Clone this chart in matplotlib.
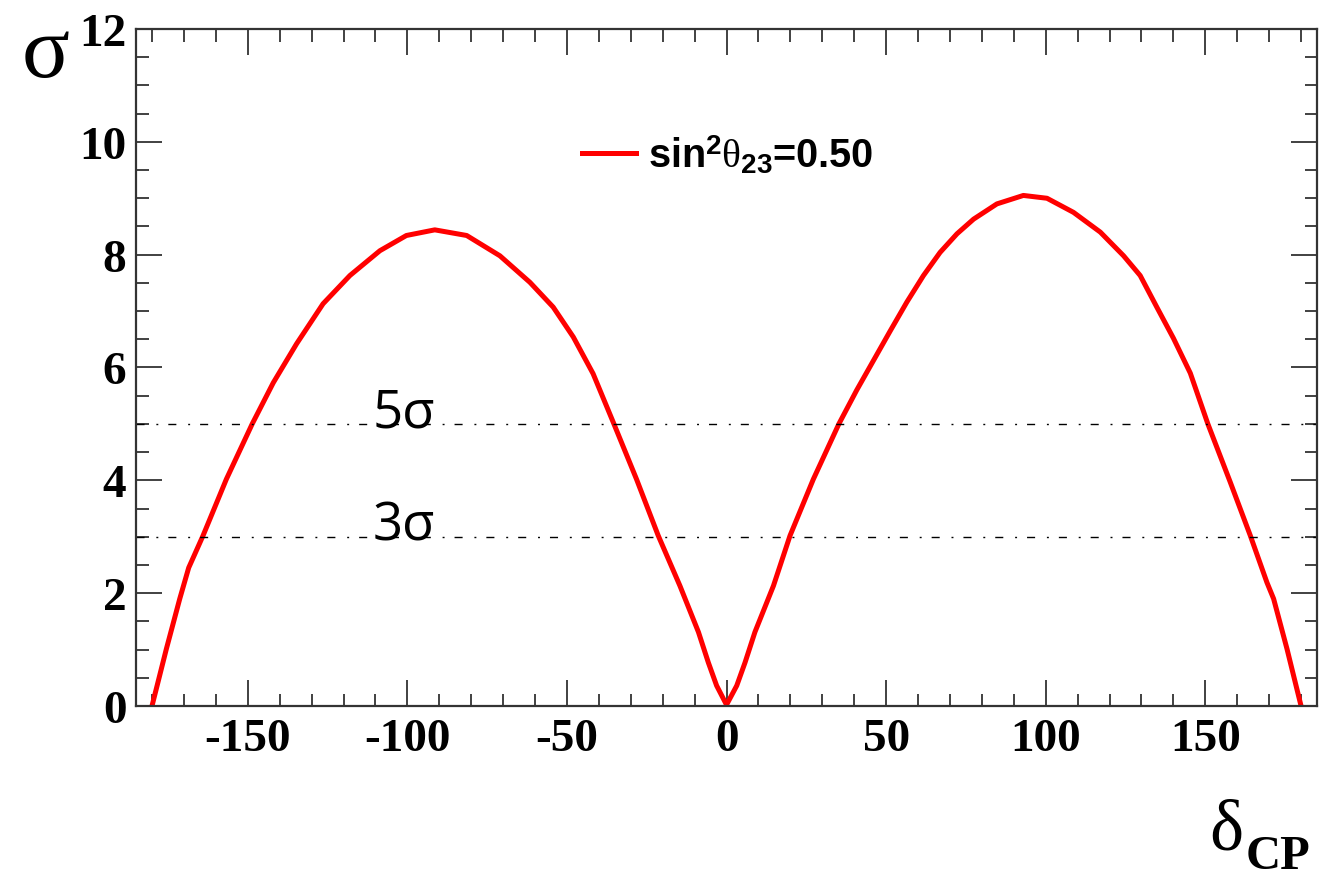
import numpy as np
import matplotlib
matplotlib.use("Agg")
import matplotlib.pyplot as plt
from matplotlib.ticker import MultipleLocator

plt.rcParams['axes.unicode_minus'] = False
plt.rcParams['mathtext.fontset'] = 'custom'
plt.rcParams['mathtext.rm'] = 'Liberation Sans:bold'
plt.rcParams['mathtext.bf'] = 'Liberation Sans:bold'
plt.rcParams['mathtext.it'] = 'Liberation Serif'

##significance vs delta_CP
delta_cp = [-180, -175.5, -171.3, -168.5, -164, -156.7, -148.6, -142, -134.7,
            -126.4, -118, -108.6, -100.3, -91.4, -81.4, -71, -61.6, -54.3,
            -48, -41.8, -35.5, -28.2, -21.4, -14.6, -8.8, -5.7, -3.1, 0,
            3.2, 5.8, 8.9, 14.7, 19.9, 27.2, 35.2, 40.8, 46, 51.3, 56.5, 61.7,
            66.9, 72.2, 77.4, 84.7, 93, 100.4, 108.7, 117.1, 124.4, 129.6,
            134.9, 140, 145.3, 150.8, 157.8, 164.1, 169.3, 171.4, 175.6, 180]
sigma = [0.0, 1.01, 1.9, 2.45, 3.02, 4.02, 5.0, 5.73, 6.42,
         7.13, 7.63, 8.07, 8.34, 8.44, 8.34, 7.98, 7.51, 7.07,
         6.54, 5.89, 5.03, 4.02, 3.02, 2.13, 1.31, 0.77, 0.36, 0.02,
         0.36, 0.77, 1.31, 2.13, 3.02, 4.02, 5.0, 5.6, 6.12, 6.65, 7.16, 7.63,
         8.04, 8.37, 8.63, 8.9, 9.05, 9.0, 8.75, 8.4, 7.98, 7.63,
         7.06, 6.52, 5.9, 5.0, 3.97, 3.02, 2.19, 1.9, 1.01, 0.0]
ref_levels = [3, 5]
ref_labels = ['3\u03c3', '5\u03c3']
legend_label = r'$\mathrm{sin}^{2}\theta_{23}$=0.50'

fig = plt.figure(figsize=(13.31, 8.78), dpi=100)
ax = fig.add_axes([0.1022, 0.1948, 0.8873, 0.771])

ax.plot(delta_cp, sigma, color='#ff0000', linewidth=3.6, label=legend_label,
        solid_joinstyle='round')

for lev, lab in zip(ref_levels, ref_labels):
    ax.axhline(lev, color='black', linewidth=1.0,
               linestyle=(0, (5.8, 8.5, 1.4, 7.2)))
    ax.text(-111, lev - 0.05, lab, fontsize=38, family='Open Sans',
            ha='left', va='baseline')

ax.set_xlim(-185, 185)
ax.set_ylim(0, 12)
ax.xaxis.set_major_locator(MultipleLocator(50))
ax.xaxis.set_minor_locator(MultipleLocator(10))
ax.yaxis.set_major_locator(MultipleLocator(2))
ax.yaxis.set_minor_locator(MultipleLocator(0.5))
ax.tick_params(which='both', direction='in', top=True, right=True,
               color='#333333', width=1.3)
ax.tick_params(which='major', length=19)
ax.tick_params(which='minor', length=9)
ax.tick_params(axis='x', pad=9)
ax.tick_params(axis='y', pad=7)
for lab in ax.get_xticklabels() + ax.get_yticklabels():
    lab.set_family('Liberation Serif')
    lab.set_fontweight('bold')
    lab.set_fontsize(34)
for sp in ax.spines.values():
    sp.set_color('#333333')
    sp.set_linewidth(1.6)

leg = ax.legend(loc='center left', bbox_to_anchor=((562 - 136) / 1181, (707 - 155) / 677),
                frameon=False, borderpad=0, handlelength=1.36, handletextpad=0.3,
                prop={'family': 'Liberation Sans', 'weight': 'bold', 'size': 28.5})

##axis titles placed like the original, sigma top left, delta_CP bottom right
fig.text(46 / 1331, 1 - 55 / 878, '\u03c3', fontsize=64, family='Liberation Serif',
         ha='center', va='center')
fig.text(1243 / 1331, 1 - 850 / 878, '\u03b4', fontsize=52, family='Liberation Serif',
         ha='right', va='baseline')
fig.text(1246 / 1331, 1 - 869 / 878, 'CP', fontsize=35, family='Liberation Serif',
         fontweight='bold', ha='left', va='baseline')

fig.savefig('out.png', dpi=100)
